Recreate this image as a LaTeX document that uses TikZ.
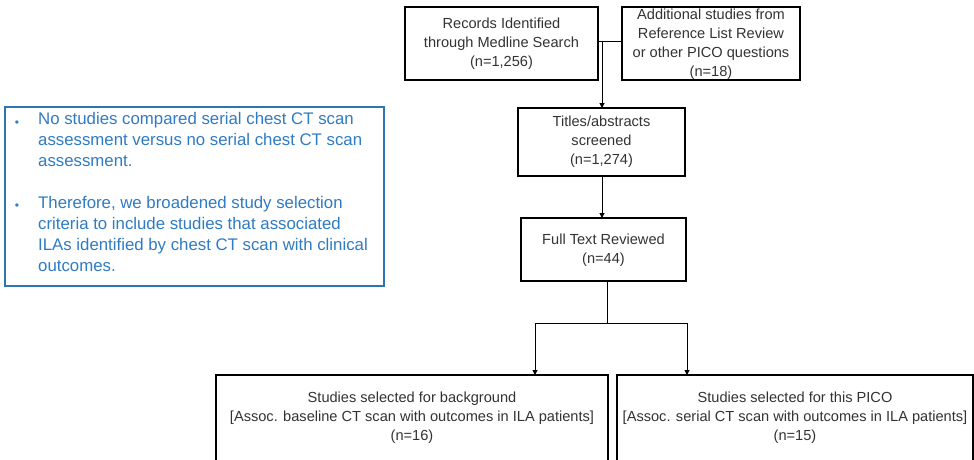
\documentclass[tikz,border=0pt]{standalone}
\usepackage{fontspec}
\setmainfont{Liberation Sans}
\usetikzlibrary{arrows.meta}
\definecolor{noteblue}{HTML}{2E75B6}
\definecolor{notetext}{HTML}{2F7BC4}
\definecolor{txtgray}{HTML}{333333}
\begin{document}
\begin{tikzpicture}[x=1pt,y=-1pt,
  flowbox/.style={draw=black, line width=1.5pt, fill=white},
  flowtext/.style={align=center, text=txtgray, font=\fontsize{14.6}{19}\selectfont},
  conn/.style={line width=1pt},
  arr/.style={line width=1pt, -{Triangle[length=5pt,width=5pt]}},
  notetxt/.style={anchor=north west, text=notetext, align=left, inner sep=0pt,
    font=\fontsize{16.8}{21}\selectfont},
  bullet/.style={text=notetext, font=\fontsize{12}{14}\selectfont}]
\useasboundingbox (0,0) rectangle (974,460);
% boxes
\draw[flowbox] (405,7) rectangle (598,80);
\node[flowtext] (rec) at (501.5,44) {Records Identified\\through Medline Search\\(n=1,256)};
\coordinate (recE) at (598,42);
\draw[flowbox] (622,7) rectangle (800,80);
\node[flowtext] (add) at (711,44) {Additional studies from\\Reference List Review\\or other PICO questions\\(n=18)};
\coordinate (addW) at (622,42);
\draw[flowbox] (518,108) rectangle (685,176);
\node[flowtext] (tit) at (601.5,142) {Titles/abstracts\\screened\\(n=1,274)};
\coordinate (titN) at (602,108);
\coordinate (titS) at (602,176);
\draw[flowbox] (521,218) rectangle (686,281);
\node[flowtext] (ful) at (603.5,250) {Full Text Reviewed\\(n=44)};
\coordinate (fulN) at (602,218);
\coordinate (fulS) at (607,281);
\draw[flowbox] (216,375) rectangle (608,463);
\node[flowtext] (bg) at (412,418) {Studies selected for background\\{}[Assoc. baseline CT scan with outcomes in ILA patients]\\(n=16)};
\coordinate (bgN) at (535,375);
\draw[flowbox] (617,375) rectangle (973,463);
\node[flowtext] (pico) at (795,418) {Studies selected for this PICO\\{}[Assoc. serial CT scan with outcomes in ILA patients]\\(n=15)};
\coordinate (picoN) at (687,375);
% connectors
\draw[conn] (recE) -- (addW);
\coordinate (j1) at (602,42);
\draw[arr] (j1) -- (titN);
\draw[arr] (titS) -- (fulN);
\coordinate (j2) at (607,323);
\draw[conn] (fulS) -- (j2);
\draw[arr] (j2) -| (bgN);
\draw[arr] (j2) -| (picoN);
% note box
\draw[draw=noteblue, line width=2pt, fill=white] (5,107) rectangle (384,286);
\node[notetxt] (note1) at (38,112)
  {No studies compared serial chest CT scan\\assessment versus no serial chest CT scan\\assessment.};
\node[bullet] (b1) at (17,124) {•};
\node[notetxt] (note2) at (38,196)
  {Therefore, we broadened study selection\\criteria to include studies that associated\\ILAs identified by chest CT scan with clinical\\outcomes.};
\node[bullet] (b2) at (17,207) {•};
\end{tikzpicture}
\end{document}
